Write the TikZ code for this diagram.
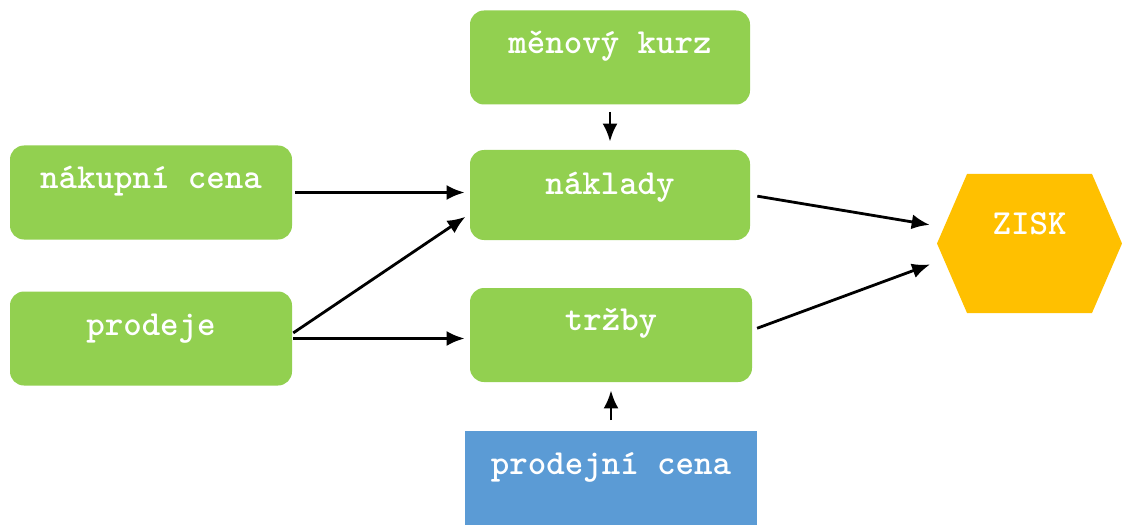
\documentclass[tikz,border=0pt]{standalone}
\usepackage{fontspec}
\usetikzlibrary{arrows.meta}
\definecolor{boxgreen}{HTML}{92D050}
\definecolor{boxblue}{HTML}{5B9BD5}
\definecolor{ziskorange}{HTML}{FFC000}
\tikzset{
  box/.style={fill=boxgreen, rounded corners=7pt, minimum width=140pt, minimum height=47pt,
    text=white, font=\ttfamily\bfseries\fontsize{17.6}{20}\selectfont,
    text height=8pt, text depth=11.5pt},
  pricebox/.style={box, fill=boxblue, sharp corners, minimum width=146pt},
  hexbox/.style={box, fill=none, rounded corners=0pt, minimum width=92.5pt, minimum height=69.5pt,
    text depth=17pt,
    path picture={\fill[ziskorange] (path picture bounding box.west)
      -- ([xshift=15pt]path picture bounding box.north west)
      -- ([xshift=-15pt]path picture bounding box.north east)
      -- (path picture bounding box.east)
      -- ([xshift=-15pt]path picture bounding box.south east)
      -- ([xshift=15pt]path picture bounding box.south west) -- cycle;}},
  arr/.style={-{Latex[length=9pt,width=7.5pt]}, line width=1.4pt},
}
\begin{document}
\begin{tikzpicture}[x=0.5pt,y=-0.5pt]
	\useasboundingbox (0,0) rectangle (1122,529);
	% boxes
	\node[box] (kurz) at (610,57.5) {měnový kurz};
	\node[box, minimum height=45pt, text depth=8pt] (naklady) at (610,195) {náklady};
	\node[box, minimum width=141pt] (nakup) at (151,192.5) {nákupní cena};
	\node[box, minimum width=141pt] (prodeje) at (151,338.5) {prodeje};
	\node[box, minimum width=141pt, text depth=13pt] (trzby) at (611,335) {tržby};
	\node[pricebox] (cena) at (611,477.5) {prodejní cena};
	\node[hexbox] (zisk) at (1029.5,243.5) {ZISK};
	% arrows
	\draw[arr, shorten <=3.5pt, shorten >=4pt] (kurz.south) -- (naklady.north);
	\draw[arr, shorten <=1.5pt, shorten >=2.5pt] (nakup.east) -- (nakup.east -| naklady.west);
	\draw[arr, shorten <=0.5pt, shorten >=2.5pt] ([yshift=2.5pt]prodeje.east) -- ([yshift=-9.5pt]naklady.west);
	\draw[arr, shorten <=0.5pt, shorten >=2.5pt] (prodeje.east) -- (prodeje.east -| trzby.west);
	\draw[arr, shorten <=5pt, shorten >=4pt] (cena.north) -- (trzby.south);
	\draw[arr, shorten <=3.5pt, shorten >=3.5pt] (naklady.east) -- ([yshift=8.75pt]zisk.west);
	\draw[arr, shorten <=2.5pt, shorten >=3.5pt] ([yshift=2.5pt]trzby.east) -- ([yshift=-9.25pt]zisk.west);
\end{tikzpicture}
\end{document}
